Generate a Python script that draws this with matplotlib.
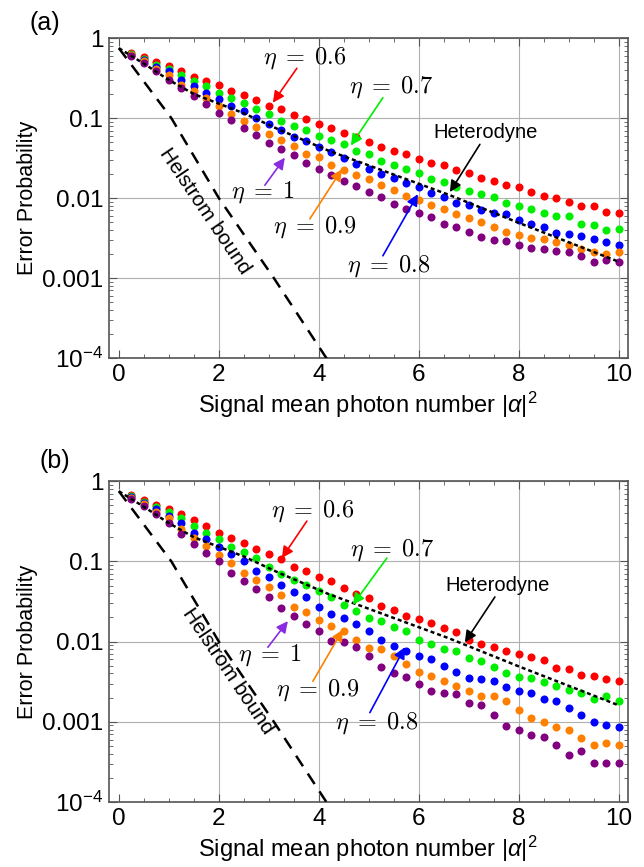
import numpy as np
import matplotlib.pyplot as plt

plt.rcParams['font.family'] = ['Liberation Sans', 'DejaVu Sans']
plt.rcParams['mathtext.fontset'] = 'custom'
plt.rcParams['mathtext.rm'] = 'Liberation Sans'
plt.rcParams['mathtext.it'] = 'Liberation Sans:italic'

# signal mean photon number |alpha|^2
x = [0.25, 0.5, 0.75, 1.0, 1.25, 1.5, 1.75, 2.0, 2.25, 2.5,
     2.75, 3.0, 3.25, 3.5, 3.75, 4.0, 4.25, 4.5, 4.75, 5.0,
     5.25, 5.5, 5.75, 6.0, 6.25, 6.5, 6.75, 7.0, 7.25, 7.5,
     7.75, 8.0, 8.25, 8.5, 8.75, 9.0, 9.25, 9.5, 9.75, 10.0]

# panel (a) error probabilities
red_a = [0.652, 0.575, 0.504, 0.453, 0.385, 0.328, 0.290, 0.256, 0.217, 0.194,
         0.167, 0.142, 0.129, 0.108, 0.0968, 0.0838, 0.0748, 0.0661, 0.0573, 0.0501,
         0.0435, 0.0387, 0.0352, 0.0311, 0.0277, 0.0257, 0.0223, 0.0205, 0.0181, 0.0164,
         0.0145, 0.0136, 0.0120, 0.0105, 0.0101, 0.0090, 0.0080, 0.0079, 0.0068, 0.0065]
green_a = [0.638, 0.553, 0.467, 0.416, 0.344, 0.290, 0.251, 0.207, 0.180, 0.156,
           0.129, 0.114, 0.0923, 0.0800, 0.0706, 0.0600, 0.0531, 0.0473, 0.0391, 0.0352,
           0.0291, 0.0257, 0.0229, 0.0205, 0.0175, 0.0157, 0.0138, 0.0123, 0.0112, 0.0102,
           0.0087, 0.0080, 0.0074, 0.0066, 0.0059, 0.0059, 0.0048, 0.0046, 0.0040, 0.0041]
blue_a = [0.621, 0.528, 0.441, 0.385, 0.303, 0.251, 0.207, 0.171, 0.142, 0.123,
          0.101, 0.0838, 0.0706, 0.0583, 0.0511, 0.0439, 0.0372, 0.0317, 0.0267, 0.0229,
          0.0199, 0.0181, 0.0153, 0.0136, 0.0115, 0.0102, 0.0088, 0.0082, 0.0071, 0.0065,
          0.0063, 0.0054, 0.0048, 0.0043, 0.0037, 0.0036, 0.0034, 0.0031, 0.0028, 0.0026]
orange_a = [0.610, 0.513, 0.416, 0.344, 0.263, 0.217, 0.176, 0.142, 0.114, 0.0923,
            0.0776, 0.0630, 0.0531, 0.0451, 0.0356, 0.0323, 0.0262, 0.0225, 0.0197, 0.0172,
            0.0145, 0.0127, 0.0107, 0.0095, 0.0082, 0.0073, 0.0063, 0.0056, 0.0050, 0.0043,
            0.0038, 0.0035, 0.0032, 0.0031, 0.0028, 0.0026, 0.0023, 0.0021, 0.0020, 0.0021]
purple_a = [0.592, 0.489, 0.393, 0.303, 0.235, 0.188, 0.149, 0.117, 0.0940, 0.0748,
            0.0612, 0.0482, 0.0410, 0.0345, 0.0272, 0.0231, 0.0197, 0.0166, 0.0140, 0.0120,
            0.0102, 0.0084, 0.0074, 0.0066, 0.0058, 0.0048, 0.0044, 0.0038, 0.0033, 0.0030,
            0.0029, 0.0026, 0.0024, 0.0023, 0.0022, 0.0021, 0.0019, 0.0016, 0.0017, 0.0016]

# panel (b) error probabilities
red_b = [0.664, 0.581, 0.504, 0.445, 0.385, 0.324, 0.276, 0.228, 0.198, 0.171,
         0.142, 0.125, 0.106, 0.0855, 0.0748, 0.0630, 0.0562, 0.0465, 0.0391, 0.0348,
         0.0275, 0.0250, 0.0210, 0.0191, 0.0171, 0.0148, 0.0132, 0.0104, 0.0094, 0.0086,
         0.0076, 0.0071, 0.0065, 0.0059, 0.0047, 0.0045, 0.0038, 0.0037, 0.0034, 0.0032]
green_b = [0.652, 0.553, 0.475, 0.416, 0.344, 0.276, 0.228, 0.188, 0.151, 0.132,
           0.109, 0.0855, 0.0693, 0.0583, 0.0511, 0.0422, 0.0362, 0.0288, 0.0238, 0.0197,
           0.0179, 0.0152, 0.0134, 0.0104, 0.0092, 0.0081, 0.0076, 0.0063, 0.0057, 0.0048,
           0.0041, 0.0036, 0.0035, 0.0031, 0.0028, 0.0025, 0.0023, 0.0019, 0.0021, 0.0018]
blue_b = [0.633, 0.533, 0.445, 0.367, 0.303, 0.228, 0.188, 0.149, 0.123, 0.101,
          0.0762, 0.0630, 0.0511, 0.0410, 0.0356, 0.0267, 0.0221, 0.0197, 0.0166, 0.0134,
          0.0106, 0.0087, 0.0077, 0.0067, 0.0061, 0.0049, 0.0042, 0.0035, 0.0034, 0.0032,
          0.0027, 0.0024, 0.0023, 0.0019, 0.0018, 0.0015, 0.0012, 0.0010, 0.00091, 0.00086]
orange_b = [0.621, 0.513, 0.416, 0.344, 0.251, 0.194, 0.156, 0.120, 0.0968, 0.0726,
            0.0583, 0.0473, 0.0384, 0.0272, 0.0231, 0.0186, 0.0158, 0.0134, 0.0105, 0.0083,
            0.0080, 0.0066, 0.0052, 0.0042, 0.0037, 0.0032, 0.0028, 0.0024, 0.0021, 0.0021,
            0.0018, 0.0014, 0.0011, 0.0010, 0.00085, 0.00078, 0.00062, 0.00052, 0.00054, 0.00052]
purple_b = [0.592, 0.489, 0.385, 0.303, 0.217, 0.167, 0.129, 0.101, 0.0726, 0.0573,
            0.0451, 0.0356, 0.0259, 0.0210, 0.0166, 0.0134, 0.0101, 0.0098, 0.0085, 0.0066,
            0.0048, 0.0041, 0.0036, 0.0030, 0.0024, 0.0023, 0.0022, 0.0017, 0.0016, 0.0012,
            0.00089, 0.00079, 0.00068, 0.00064, 0.00051, 0.00039, 0.00043, 0.00031, 0.00031, 0.00031]

# reference curves (same in both panels)
helstrom_x = [0, 1.05, 2.0, 3.1, 4.15, 4.4]
helstrom_y = [0.75, 0.1, 0.01, 0.001, 1e-4, 6e-5]
het_x = [0, 0.5, 1.0, 1.5, 2.5, 3.2, 4.2, 4.9, 6.6, 8.0, 10.0]
het_y = [0.75, 0.48, 0.30, 0.20, 0.115, 0.072, 0.039, 0.027, 0.011, 0.0049, 0.0016]

colors = ['#ff0000', '#00ee00', '#0000ff', '#ff8000', '#800080']
ytick_vals = [1e-4, 1e-3, 1e-2, 1e-1, 1]
ytick_lbls = ['$10^{-4}$', '0.001', '0.01', '0.1', '1']

fig = plt.figure(figsize=(6.44, 8.67), dpi=100)
ax_a = fig.add_axes([0.169, 0.587, 0.806, 0.369])
ax_b = fig.add_axes([0.169, 0.075, 0.806, 0.370])

panels = [(ax_a, [red_a, green_a, blue_a, orange_a, purple_a]),
          (ax_b, [red_b, green_b, blue_b, orange_b, purple_b])]

for ax, series in panels:
    for s, c in zip(series, colors):
        ax.plot(x, s, 'o', color=c, ms=5.8, mew=0, zorder=3)
    ax.plot(helstrom_x, helstrom_y, color='black', lw=1.8, dashes=(5, 3.5), zorder=4)
    ax.plot(het_x, het_y, color='black', lw=1.8, dashes=(1.6, 1.2), zorder=4)
    ax.set_yscale('log')
    ax.set_xlim(-0.2, 10.18)
    ax.set_ylim(1e-4, 1)
    ax.set_xticks([0, 2, 4, 6, 8, 10])
    ax.set_xticks(np.arange(0, 10.01, 0.5), minor=True)
    ax.set_yticks(ytick_vals)
    ax.set_yticklabels(ytick_lbls)
    ax.tick_params(which='both', direction='in', top=True, right=True,
                   color='#555555', labelsize=17.5)
    ax.tick_params(which='major', length=6, width=0.8)
    ax.tick_params(which='minor', length=3, width=0.6)
    ax.tick_params(axis='x', pad=4)
    ax.tick_params(axis='y', pad=4)
    ax.grid(True, which='major', color='#b0b0b0', lw=0.8)
    ax.get_xgridlines()[0].set_visible(False)
    for sp in ax.spines.values():
        sp.set_color('#555555')
        sp.set_linewidth(1.2)
    ax.set_ylabel('Error Probability', fontsize=15.5, labelpad=3)
    ax.set_xlabel(r'Signal mean photon number $|\alpha|^2$', fontsize=17, labelpad=3)

fig.text(45 / 644, 1 - 23 / 867, '(a)', fontsize=18, ha='center', va='center')
fig.text(55 / 644, 1 - 461 / 867, '(b)', fontsize=18, ha='center', va='center')


def label(ax, txt, pos, tail, tip, col, math=True):
    ax.annotate('', xy=tip, xytext=tail,
                arrowprops=dict(arrowstyle='-|>', color=col, lw=1.2,
                                mutation_scale=17, shrinkA=0, shrinkB=0), zorder=5)
    if math:
        ax.text(pos[0], pos[1], txt, fontsize=17.5, ha='center', va='center',
                math_fontfamily='cm', zorder=6)
    else:
        ax.text(pos[0], pos[1], txt, fontsize=14.5, ha='center', va='center', zorder=6)


# panel (a) labels
label(ax_a, r'$\eta\;=\;0.6$', (3.72, 0.565), (3.56, 0.42), (3.08, 0.156), '#ff0000')
label(ax_a, r'$\eta\;=\;0.7$', (5.44, 0.246), (5.28, 0.18), (4.64, 0.0455), '#00ee00')
label(ax_a, 'Heterodyne', (7.34, 0.066), (7.22, 0.047), (6.62, 0.0119), 'black', math=False)
label(ax_a, r'$\eta\;=\;1$', (2.88, 0.0119), (2.92, 0.0145), (3.32, 0.032), '#8a2be2')
label(ax_a, r'$\eta\;=\;0.9$', (3.92, 0.0044), (3.82, 0.0055), (4.46, 0.0229), '#ff8000')
label(ax_a, r'$\eta\;=\;0.8$', (5.40, 0.00143), (5.28, 0.0019), (5.98, 0.0112), '#0000ff')
ax_a.text(1.72, 0.0069, 'Helstrom bound', fontsize=15, rotation=-56,
          ha='center', va='center', rotation_mode='anchor')

# panel (b) labels
label(ax_b, r'$\eta\;=\;0.6$', (3.88, 0.424), (3.76, 0.318), (3.26, 0.110), '#ff0000')
label(ax_b, r'$\eta\;=\;0.7$', (5.46, 0.139), (5.36, 0.110), (4.68, 0.0288), '#00ee00')
label(ax_b, 'Heterodyne', (7.58, 0.050), (7.52, 0.036), (6.92, 0.0098), 'black', math=False)
label(ax_b, r'$\eta\;=\;1$', (3.02, 0.0067), (2.98, 0.0085), (3.38, 0.018), '#8a2be2')
label(ax_b, r'$\eta\;=\;0.9$', (3.98, 0.0025), (3.88, 0.0032), (4.48, 0.0141), '#ff8000')
label(ax_b, r'$\eta\;=\;0.8$', (5.16, 0.00096), (5.02, 0.0013), (5.72, 0.0085), '#0000ff')
ax_b.text(2.18, 0.0043, 'Helstrom bound', fontsize=15, rotation=-56,
          ha='center', va='center', rotation_mode='anchor')

plt.savefig('out.png', dpi=100)
